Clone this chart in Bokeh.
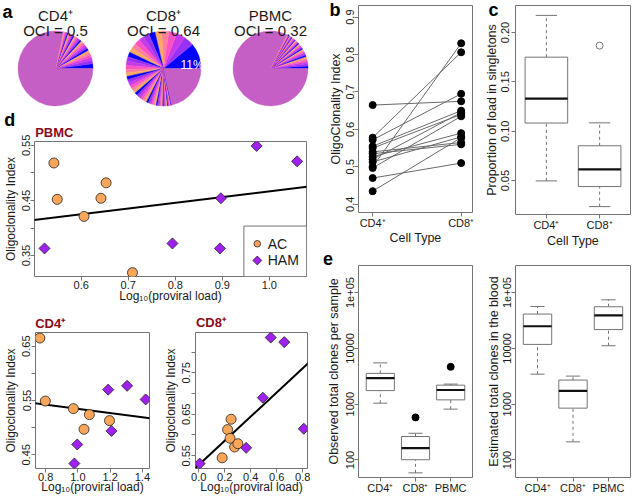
import numpy as np
from bokeh.plotting import figure
from bokeh.layouts import row, column
from bokeh.models import Slope, FixedTicker, NumeralTickFormatter, ColumnDataSource
from bokeh.embed import file_html
from bokeh.resources import INLINE
from bokeh.core.properties import value

# ------------------------------------------------------------------ data
# panel a : clone sizes (% of proviral load), largest clones first; the rest = many tiny clones
pie_titles = ["CD4⁺", "CD8⁺", "PBMC"]
pie_oci = [0.5, 0.64, 0.32]
cd4_clone_pct = [2.0, 1.5, 1.3, 1.2, 1.1, 1.0, 0.95, 0.9, 0.85, 0.8, 0.75, 0.7, 0.68, 0.65, 0.62,
                 0.6, 0.58, 0.55, 0.52, 0.5, 0.48, 0.46, 0.44, 0.42, 0.4, 0.38, 0.36, 0.34, 0.32, 0.3]
cd8_clone_pct = [11.0, 4.5, 3.8, 3.4, 3.1, 2.9, 2.7, 2.5, 2.4, 2.3, 2.2, 2.1, 2.0, 1.9, 1.8, 1.7,
                 1.6, 1.5, 1.45, 1.4, 1.35, 1.3, 1.25, 1.2, 1.15, 1.1, 1.05, 1.0, 0.95, 0.9, 0.85,
                 0.8, 0.75, 0.7, 0.65, 0.6, 0.55, 0.5, 0.5, 0.45, 0.45, 0.4, 0.4, 0.35, 0.35, 0.3,
                 0.3, 0.3, 0.28, 0.26, 0.25, 0.24, 0.23, 0.22, 0.21, 0.2]
pbmc_clone_pct = [1.1, 0.95, 0.85, 0.8, 0.75, 0.7, 0.66, 0.62, 0.6, 0.57, 0.55, 0.52, 0.5, 0.48,
                  0.46, 0.44, 0.42, 0.4, 0.38, 0.37, 0.36, 0.35, 0.34, 0.33, 0.32, 0.31, 0.3, 0.29,
                  0.28, 0.27, 0.26, 0.25, 0.24, 0.23, 0.22, 0.21, 0.2, 0.2, 0.19, 0.19, 0.18, 0.18]
clone_colors = ["#0000FF", "#9A32F5", "#C63BE8", "#FF50C8", "#FF7FA0", "#FFA860"]
other_clones_color = "#C65FC5"

# panel b : oligoclonality index per patient
cell_types = ["CD4⁺", "CD8⁺"]
b_cd4_oci = [0.665, 0.578, 0.572, 0.555, 0.550, 0.540, 0.535, 0.527, 0.520, 0.513, 0.500, 0.497, 0.470, 0.435]
b_cd8_oci = [0.675, 0.806, 0.695, 0.650, 0.640, 0.565, 0.560, 0.590, 0.645, 0.580, 0.830, 0.635, 0.510, 0.578]
b_yticks = [0.4, 0.5, 0.6, 0.7, 0.8, 0.9]

# panel c : proportion of load in singletons (box statistics)
c_lo = [0.0497, 0.0237]
c_q1 = [0.1083, 0.0440]
c_med = [0.1330, 0.0613]
c_q3 = [0.1750, 0.0853]
c_hi = [0.2173, 0.1085]
c_out_group = [2]
c_out_val = [0.1867]
c_yticks = [0.05, 0.10, 0.15, 0.20]

# panel d : oligoclonality index vs log10 proviral load
groups = ["AC", "HAM"]
pbmc_ac_load = [0.542, 0.549, 0.606, 0.642, 0.653, 0.709]
pbmc_ac_oci = [0.518, 0.452, 0.421, 0.454, 0.482, 0.319]
pbmc_ham_load = [0.522, 0.794, 0.897, 0.895, 0.973, 1.059]
pbmc_ham_oci = [0.363, 0.372, 0.454, 0.363, 0.549, 0.521]
cd4_ac_load = [0.764, 0.798, 0.972, 1.071, 1.038, 1.196]
cd4_ac_oci = [0.665, 0.549, 0.535, 0.524, 0.497, 0.513]
cd4_ham_load = [1.188, 1.305, 1.420, 1.208, 0.996, 0.978]
cd4_ham_oci = [0.570, 0.577, 0.552, 0.494, 0.469, 0.434]
cd8_ac_load = [0.180, 0.222, 0.241, 0.249, 0.276, 0.301]
cd8_ac_oci = [0.545, 0.613, 0.592, 0.638, 0.571, 0.579]
cd8_ham_load = [0.007, 0.365, 0.493, 0.554, 0.658, 0.808]
cd8_ham_oci = [0.531, 0.569, 0.690, 0.835, 0.824, 0.615]
pbmc_xticks = [0.6, 0.7, 0.8, 0.9, 1.0]
pbmc_yticks = [0.35, 0.45, 0.55]
pbmc_yminor = [0.40, 0.50]
cd4_xticks = [0.8, 1.0, 1.2, 1.4]
cd4_yticks = [0.45, 0.55, 0.65]
cd4_yminor = [0.50, 0.60]
cd8_xticks = [0.0, 0.2, 0.4, 0.6, 0.8]
cd8_yticks = [0.55, 0.65, 0.75]
cd8_yminor = [0.60, 0.70, 0.80]

# panel e : total clones (box statistics, log scale)
e_groups = ["CD4⁺", "CD8⁺", "PBMC"]
obs_lo = [1042, 58.7, 815]
obs_q1 = [1750, 101, 1194]
obs_med = [2933, 163, 1795]
obs_q3 = [3563, 263, 2190]
obs_hi = [5496, 301, 2290]
obs_out_group = [2, 3]
obs_out_val = [579, 4664]
est_lo = [3450, 211, 11150]
est_q1 = [11780, 849, 21700]
est_med = [24900, 1725, 39000]
est_q3 = [41200, 2705, 55700]
est_hi = [56370, 3184, 74100]
e_yticks = [100, 1000, 10000, 100000]
e_ytick_labels = ["100", "1000", "10000", "1e+05"]

# ------------------------------------------------------------------ style
S = 1.0
FONT = "Liberation Sans"
FRAME_COL = "#747474"
TXT = "#1a1a1a"
DARKRED = "#8B0A1A"
AC_COL = "#F9A65A"
HAM_COL = "#A020F0"


def px(v):
    return int(round(v * S))


def fs(v):
    return f"{v * S:.1f}px"


W1, W2, W3 = px(320), px(160), px(157)
HT = px(496)
H_B = px(247)          # panel b figure height (panel e starts below it)
H_C = px(250)          # panel c figure height
H_PIE = px(108)
H_PBMC = px(197)
H_BOT = HT - H_PIE - H_PBMC
W_CD4 = px(160)
W_CD8 = W1 - W_CD4


def to_data(geom, pxv, pyv):
    (fl, ft, fr, fb), xr, yr, ylog = geom
    x = xr[0] + (pxv - fl) / (fr - fl) * (xr[1] - xr[0])
    if ylog:
        l0, l1 = np.log10(yr[0]), np.log10(yr[1])
        y = 10 ** (l1 - (pyv - ft) / (fb - ft) * (l1 - l0))
    else:
        y = yr[1] - (pyv - ft) / (fb - ft) * (yr[1] - yr[0])
    return x, y


def add_text(p, geom, pxv, pyv, text, size, bold=False, color=TXT, align="center"):
    x, y = to_data(geom, pxv, pyv)
    p.text(x=[x], y=[y], text=[text], text_font=value(FONT), text_font_size=fs(size),
           text_font_style="bold" if bold else "normal", text_color=color,
           text_align=align, text_baseline="middle", level="overlay")


def panel(box, size, frame, xr, yr, ylog=False):
    ox, oy, ow, oh = box
    w, h = size
    fl, ft, fr, fb = frame
    p = figure(width=w, height=h, x_range=xr, y_range=yr,
               y_axis_type="log" if ylog else "linear",
               toolbar_location=None, output_backend="svg",
               min_border_left=px(fl - ox), min_border_right=max(1, px(ox + ow - fr)),
               min_border_top=px(ft - oy), min_border_bottom=px(oy + oh - fb))
    p.grid.visible = False
    p.outline_line_color = FRAME_COL
    p.outline_line_width = 1
    p.background_fill_color = "white"
    p.border_fill_color = "white"
    return p, (frame, xr, yr, ylog)


def r_axes(p, xlabel, ylabel, xls=0, xas=0, yls=0, yas=0, tick_fs=11, lab_fs=12):
    for ax in (p.xaxis[0], p.yaxis[0]):
        ax.axis_line_color = None
        ax.major_tick_line_color = FRAME_COL
        ax.minor_tick_line_color = FRAME_COL
        ax.major_tick_out = px(3.5)
        ax.major_tick_in = 0
        ax.minor_tick_out = px(3.5)
        ax.minor_tick_in = 0
        ax.major_label_text_font = FONT
        ax.major_label_text_font_size = fs(tick_fs)
        ax.major_label_text_color = TXT
        ax.axis_label_text_font = FONT
        ax.axis_label_text_font_size = fs(lab_fs)
        ax.axis_label_text_font_style = "normal"
        ax.axis_label_text_color = TXT
    p.xaxis[0].axis_label = xlabel
    p.yaxis[0].axis_label = ylabel
    p.xaxis[0].major_label_standoff = px(xls)
    p.xaxis[0].axis_label_standoff = px(xas)
    p.yaxis[0].major_label_standoff = px(yls)
    p.yaxis[0].axis_label_standoff = px(yas)
    p.yaxis[0].major_label_orientation = "vertical"


# ------------------------------------------------------------------ panel a (pies)
PIE_R = 37.5
PIE_CY = 68.0


def pie_fig(fig_w, cx, pct, title, oci):
    wref = fig_w / S
    href = H_PIE / S
    p = figure(width=fig_w, height=H_PIE, x_range=(-cx, wref - cx), y_range=(-(href - PIE_CY), PIE_CY),
               x_axis_location=None, y_axis_location=None, toolbar_location=None,
               output_backend="svg", min_border=0)
    p.outline_line_color = None
    p.grid.visible = False
    frac = np.array(pct) / 100.0
    fr = np.append(frac, 1.0 - frac.sum())
    ends = 2 * np.pi * np.cumsum(fr)
    starts = np.concatenate([[0.0], ends[:-1]])
    cols = [clone_colors[k % len(clone_colors)] for k in range(len(frac))] + [other_clones_color]
    src = ColumnDataSource(dict(s=starts, e=ends, c=cols))
    p.wedge(x=0, y=0, radius=PIE_R, start_angle="s", end_angle="e", fill_color="c",
            line_color="c", line_width=0.4, source=src)
    p.text(x=[0, 0], y=[PIE_CY - 15, PIE_CY - 29.5], text=[title, f"OCI = {oci}"],
           text_align="center", text_baseline="alphabetic", text_font=value(FONT),
           text_font_size=fs(15), text_color=TXT)
    return p


pw1 = px(107)
pw2 = px(107)
pw3 = W1 - pw1 - pw2
pie1 = pie_fig(pw1, 55, cd4_clone_pct, pie_titles[0], pie_oci[0])
pie2 = pie_fig(pw2, 56, cd8_clone_pct, pie_titles[1], pie_oci[1])
pie3 = pie_fig(pw3, 56, pbmc_clone_pct, pie_titles[2], pie_oci[2])
pie1.text(x=[-48], y=[PIE_CY - 11], text=["a"], text_font=value(FONT), text_font_size=fs(18),
          text_font_style="bold", text_color="black", text_align="center", text_baseline="middle")
pie2.text(x=[PIE_R * 0.76], y=[PIE_R * 0.1], text=[f"{round(cd8_clone_pct[0])}%"],
          text_font=value(FONT), text_font_size=fs(12), text_color="white",
          text_align="center", text_baseline="middle")

# ------------------------------------------------------------------ panel d (scatter + fits)


def scatter_panel(p, ac_x, ac_y, ham_x, ham_y):
    xs = np.array(ac_x + ham_x)
    ys = np.array(ac_y + ham_y)
    k, b0 = np.polyfit(xs, ys, 1)
    p.add_layout(Slope(gradient=k, y_intercept=b0, line_color="black", line_width=2, level="underlay"))
    p.scatter(ac_x, ac_y, marker="circle", size=10 * S, fill_color=AC_COL, line_color="#222222",
              line_width=0.8)
    p.scatter(ham_x, ham_y, marker="square", angle=np.pi / 4, size=7.8 * S, fill_color=HAM_COL,
              line_color="#222222", line_width=0.8)


LOG_LABEL = "Log₁₀(proviral load)"
OCI_LABEL = "Oligoclonality Index"

pb, g_pb = panel((0, 108, 320, 197), (W1, H_PBMC), (32.3, 141, 306, 278.3), (0.5007, 1.079), (0.312, 0.557))
scatter_panel(pb, pbmc_ac_load, pbmc_ac_oci, pbmc_ham_load, pbmc_ham_oci)
r_axes(pb, LOG_LABEL, OCI_LABEL, xls=0, xas=-3, yls=0, yas=2)
pb.xaxis[0].ticker = FixedTicker(ticks=pbmc_xticks)
pb.xaxis[0].formatter = NumeralTickFormatter(format="0.0")
pb.yaxis[0].ticker = FixedTicker(ticks=pbmc_yticks, minor_ticks=pbmc_yminor)
pb.yaxis[0].formatter = NumeralTickFormatter(format="0.00")

# legend box (bottom-right corner of the PBMC frame)
lx0, ly0 = to_data(g_pb, 243, 227)
pb.quad(left=[lx0], right=[g_pb[1][1]], bottom=[g_pb[2][0]], top=[ly0], fill_color="white",
        line_color=FRAME_COL, line_width=1)
mx, my1 = to_data(g_pb, 256.5, 245)
_, my2 = to_data(g_pb, 256.5, 262)
tx, _ = to_data(g_pb, 267, 245)
pb.scatter([mx], [my1], marker="circle", size=6.5 * S, fill_color=AC_COL, line_color="#222222", line_width=0.8)
pb.scatter([mx], [my2], marker="square", angle=np.pi / 4, size=6.3 * S, fill_color=HAM_COL,
           line_color="#222222", line_width=0.8)
pb.text(x=[tx, tx], y=[my1, my2], text=groups, text_font=value(FONT), text_font_size=fs(14),
        text_color=TXT, text_align="left", text_baseline="middle")
add_text(pb, g_pb, 7.5, 119, "d", 18, bold=True, color="black")
add_text(pb, g_pb, 33, 132, "PBMC", 13, bold=True, color=DARKRED, align="left")

p4, g4 = panel((0, 305, 160, 191), (W_CD4, H_BOT), (32.3, 331.7, 149, 470.7), (0.737, 1.444), (0.4248, 0.6752))
scatter_panel(p4, cd4_ac_load, cd4_ac_oci, cd4_ham_load, cd4_ham_oci)
r_axes(p4, LOG_LABEL, OCI_LABEL, xls=0, xas=-4, yls=1, yas=2)
p4.xaxis[0].ticker = FixedTicker(ticks=cd4_xticks)
p4.xaxis[0].formatter = NumeralTickFormatter(format="0.0")
p4.yaxis[0].ticker = FixedTicker(ticks=cd4_yticks, minor_ticks=cd4_yminor)
p4.yaxis[0].formatter = NumeralTickFormatter(format="0.00")
add_text(p4, g4, 32, 322, "CD4⁺", 13, bold=True, color=DARKRED, align="left")

p8, g8 = panel((160, 305, 160, 191), (W_CD8, H_BOT), (190, 332.3, 306.7, 470.7), (-0.025, 0.837), (0.5192, 0.8472))
scatter_panel(p8, cd8_ac_load, cd8_ac_oci, cd8_ham_load, cd8_ham_oci)
r_axes(p8, LOG_LABEL, OCI_LABEL, xls=0, xas=-4, yls=1, yas=2)
p8.xaxis[0].ticker = FixedTicker(ticks=cd8_xticks)
p8.xaxis[0].formatter = NumeralTickFormatter(format="0.0")
p8.yaxis[0].ticker = FixedTicker(ticks=cd8_yticks, minor_ticks=cd8_yminor)
p8.yaxis[0].formatter = NumeralTickFormatter(format="0.00")
add_text(p8, g8, 190.5, 322, "CD8⁺", 13, bold=True, color=DARKRED, align="left")

# ------------------------------------------------------------------ panel b (paired)
pbb, g_b = panel((320, 0, 160, 247), (W2, H_B), (353, 5, 474, 216.7), (0.840, 2.128), (0.378, 0.931))
n = len(b_cd4_oci)
pbb.segment(x0=[1] * n, y0=b_cd4_oci, x1=[2] * n, y1=b_cd8_oci, line_color="#6a6a6a", line_width=1)
pbb.scatter([1] * n, b_cd4_oci, marker="circle", size=7 * S, fill_color="black", line_color="black")
pbb.scatter([2] * n, b_cd8_oci, marker="circle", size=7 * S, fill_color="black", line_color="black")
r_axes(pbb, "Cell Type", "OligoClonality Index", xls=0, xas=-1, yls=0, yas=1, lab_fs=12.5)
pbb.xaxis[0].ticker = FixedTicker(ticks=[1, 2])
pbb.xaxis[0].major_label_overrides = {1: cell_types[0], 2: cell_types[1]}
pbb.yaxis[0].ticker = FixedTicker(ticks=b_yticks)
pbb.yaxis[0].formatter = NumeralTickFormatter(format="0.0")
add_text(pbb, g_b, 328, 10, "b", 18, bold=True, color="black")

# ------------------------------------------------------------------ boxplot helper


def boxplot(p, lo, q1, med, q3, hi, out_g, out_v, out_filled):
    xs = np.arange(1, len(med) + 1, dtype=float)
    p.segment(x0=xs, y0=q3, x1=xs, y1=hi, line_color=FRAME_COL, line_dash="3 3", line_width=1)
    p.segment(x0=xs, y0=lo, x1=xs, y1=q1, line_color=FRAME_COL, line_dash="3 3", line_width=1)
    p.segment(x0=xs - 0.2, y0=hi, x1=xs + 0.2, y1=hi, line_color=FRAME_COL, line_width=1)
    p.segment(x0=xs - 0.2, y0=lo, x1=xs + 0.2, y1=lo, line_color=FRAME_COL, line_width=1)
    p.quad(left=xs - 0.4, right=xs + 0.4, bottom=q1, top=q3, fill_color="white",
           line_color=FRAME_COL, line_width=1)
    p.segment(x0=xs - 0.4, y0=med, x1=xs + 0.4, y1=med, line_color="#111111", line_width=2.2)
    if out_filled:
        p.scatter(out_g, out_v, marker="circle", size=7 * S, fill_color="black", line_color="black")
    else:
        p.scatter(out_g, out_v, marker="circle", size=7 * S, fill_color=None, line_color="#777777",
                  line_width=1)


# ------------------------------------------------------------------ panel c
pc, g_c = panel((480, 0, 157, 250), (W3, H_C), (512.3, 5, 636.3, 216.7), (0.42, 2.58), (0.0157, 0.2273))
boxplot(pc, c_lo, c_q1, c_med, c_q3, c_hi, c_out_group, c_out_val, False)
r_axes(pc, "Cell Type", "Proportion of load in singletons", xls=0, xas=0, yls=2, yas=0, lab_fs=12.5)
pc.xaxis[0].ticker = FixedTicker(ticks=[1, 2])
pc.xaxis[0].major_label_overrides = {1: cell_types[0], 2: cell_types[1]}
pc.yaxis[0].ticker = FixedTicker(ticks=c_yticks)
pc.yaxis[0].formatter = NumeralTickFormatter(format="0.00")
add_text(pc, g_c, 488.5, 10, "c", 18, bold=True, color="black")

# ------------------------------------------------------------------ panel e
E_YR = (48.5, 305500)
pel, g_el = panel((320, 247, 160, 249), (W2, HT - H_B), (358, 265, 472, 478.5), (0.38, 3.62), E_YR, ylog=True)
boxplot(pel, obs_lo, obs_q1, obs_med, obs_q3, obs_hi, obs_out_group, obs_out_val, True)
r_axes(pel, None, "Observed total clones per sample", xls=0, yls=0, yas=3, lab_fs=12.5)
per, g_er = panel((480, 250, 157, 246), (W3, HT - H_C), (515.4, 265, 630, 478.5), (0.38, 3.62), E_YR, ylog=True)
boxplot(per, est_lo, est_q1, est_med, est_q3, est_hi, [], [], True)
r_axes(per, None, "Estimated total clones in the blood", xls=0, yls=0, yas=0, lab_fs=12.5)
for pe in (pel, per):
    pe.xaxis[0].ticker = FixedTicker(ticks=[1, 2, 3])
    pe.xaxis[0].major_label_overrides = {i + 1: g for i, g in enumerate(e_groups)}
    pe.yaxis[0].ticker = FixedTicker(ticks=e_yticks)
    pe.yaxis[0].major_label_overrides = {float(t): l for t, l in zip(e_yticks, e_ytick_labels)}
add_text(pel, g_el, 327.5, 258, "e", 18, bold=True, color="black")

# ------------------------------------------------------------------ layout
col1 = column(row(pie1, pie2, pie3, spacing=0), pb, row(p4, p8, spacing=0), spacing=0)
col2 = column(pbb, pel, spacing=0)
col3 = column(pc, per, spacing=0)
layout = row(col1, col2, col3, spacing=0)

open("out.html", "w").write(file_html(layout, INLINE))
